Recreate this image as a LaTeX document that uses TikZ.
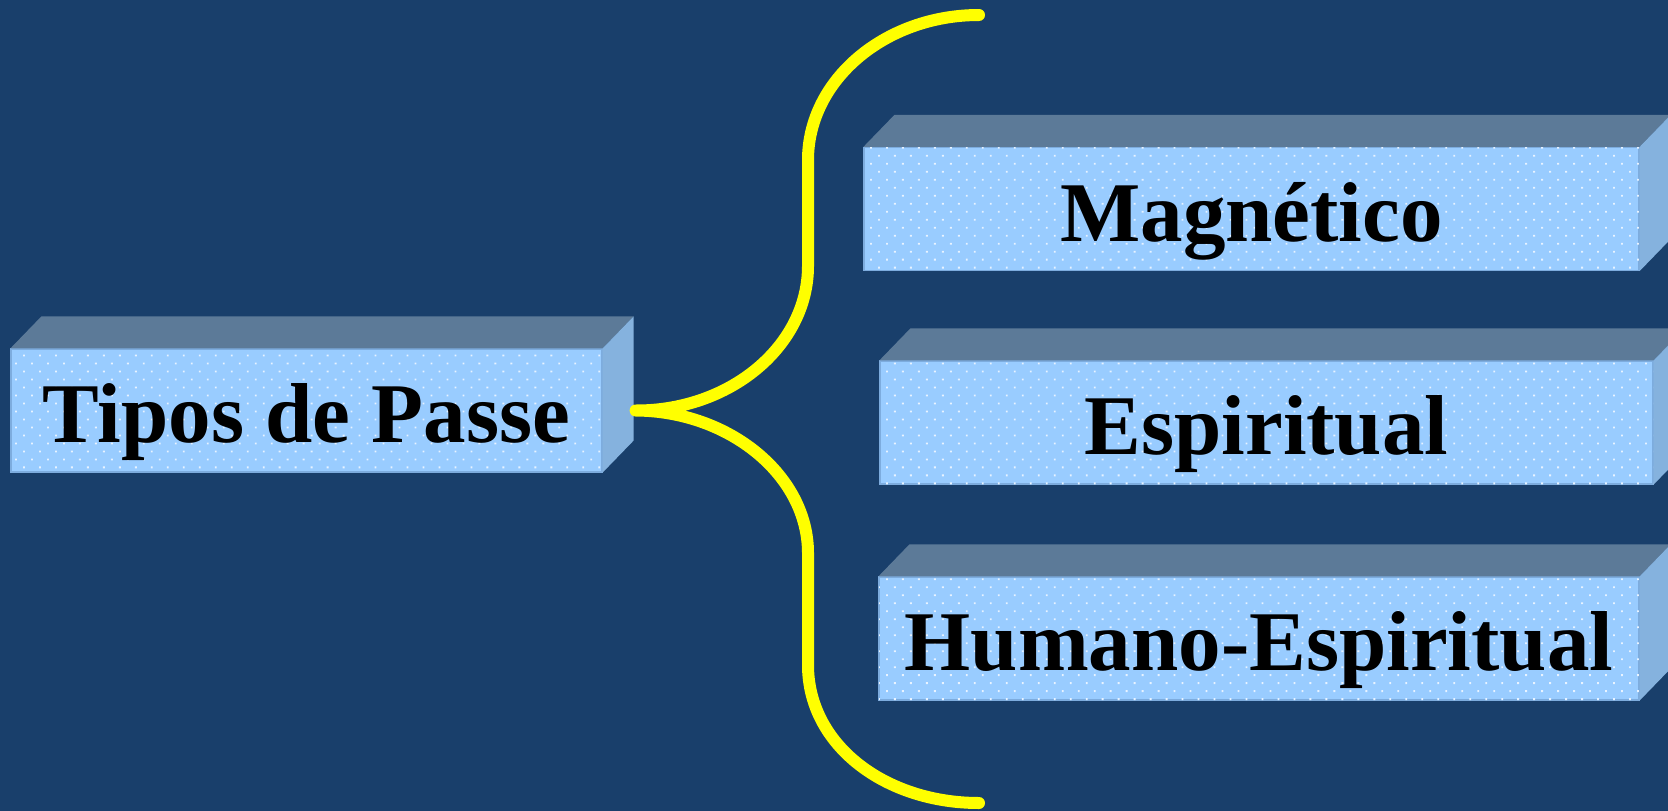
\documentclass[tikz,border=0pt]{standalone}
\usepackage{fontspec}
\setmainfont{Liberation Serif}
\usetikzlibrary{patterns.meta}
\definecolor{bg}{RGB}{25,63,107}
\definecolor{front}{RGB}{153,204,255}
\definecolor{topc}{RGB}{92,122,152}
\definecolor{sidec}{RGB}{133,178,222}
\definecolor{edgec}{RGB}{125,172,222}
\definecolor{dotc}{RGB}{232,243,255}
\definecolor{brc}{RGB}{255,255,0}
\begin{document}
\begin{tikzpicture}[x=1pt,y=-1pt,
  face/.style={draw=edgec, line width=1.2pt, fill=front, inner sep=0pt,
    minimum height=123pt, text height=93.5pt, text depth=29.5pt,
    font=\bfseries\fontsize{85}{100}\selectfont, text=black,
    postaction={pattern={Dots[radius=1.3pt,distance=11.3pt,angle=45]}, pattern color=dotc}},
  topface/.style={fill=topc},
  sideface/.style={fill=sidec},
  brace/.style={draw=brc, line width=12pt, line cap=round, line join=round}]
\useasboundingbox (0,0) rectangle (1668,811);
\clip (0,0) rectangle (1668,811);
\fill[bg] (0,0) rectangle (1668,811);

\node[face, minimum width=591pt] (tipos) at (306.5,410.5) {Tipos de Passe};
\node[face, minimum width=775pt] (mag) at (1251.5,209) {Magnético};
\node[face, minimum width=773pt] (esp) at (1266.5,422.5) {Espiritual};
\node[face, minimum width=760pt] (hum) at (1259,638.5) {Humano-Espiritual};

\foreach \n in {tipos,mag,esp,hum} {
  \fill[topface] (\n.north west) -- ++(31,-32) -- ([shift={(31,-32)}]\n.north east) -- (\n.north east) -- cycle;
  \fill[sideface] (\n.north east) -- ++(31,-32) -- ([shift={(31,-32)}]\n.south east) -- (\n.south east) -- cycle;
}

\coordinate (tip) at ([xshift=33pt]tipos.east);
\coordinate (bt) at (979,15);
\coordinate (bb) at (979,803);
\draw[brace] (bt) .. controls (885,15) and (808,80) .. (808,160) -- (808,266)
  .. controls (808,346) and (730,411) .. (tip)
  .. controls (730,411) and (808,476) .. (808,553) -- (808,665)
  .. controls (808,745) and (885,803) .. (bb);
\end{tikzpicture}
\end{document}
